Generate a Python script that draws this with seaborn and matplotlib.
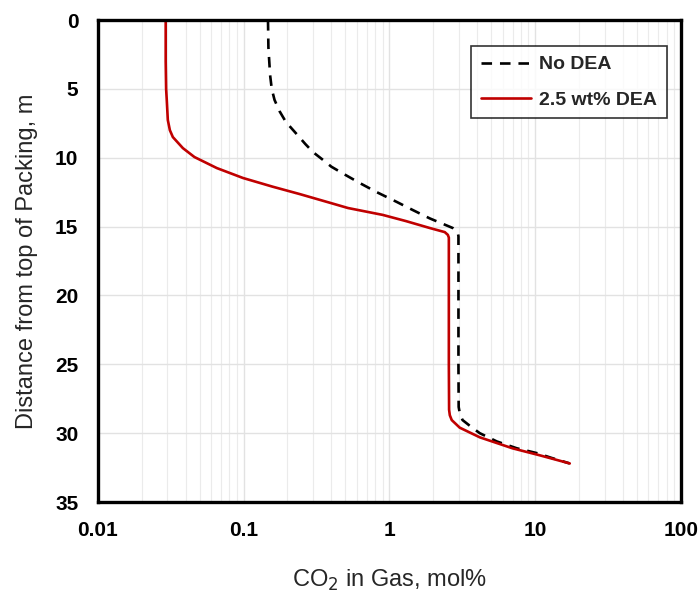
import matplotlib
matplotlib.use("Agg")
import matplotlib.pyplot as plt
import numpy as np
import seaborn as sns
from matplotlib.ticker import LogLocator, FixedLocator, NullFormatter

# depth along packing (m) and CO2 in gas (mol%)
no_dea_depth = [0, 2, 4, 5, 5.8, 6.6, 7.4, 8.3, 9.0, 9.6, 10.1, 10.65, 11.25, 11.85,
                12.5, 13.2, 13.8, 14.4, 15.1, 15.45, 15.7, 20, 25, 28.1, 28.6, 29.05,
                29.5, 30.0, 30.6, 31.1, 31.45, 31.8, 32.2]
no_dea_co2 = [0.147, 0.148, 0.152, 0.156, 0.163, 0.176, 0.195, 0.232, 0.265, 0.30,
              0.345, 0.40, 0.50, 0.63, 0.82, 1.12, 1.45, 1.89, 2.72, 2.95, 2.98, 2.98,
              2.98, 2.99, 3.05, 3.18, 3.6, 4.17, 5.46, 7.5, 10.3, 13.0, 17.3]

dea_depth = [0, 3, 5, 5.8, 7.26, 8.0, 8.5, 9.3, 9.95, 10.75, 11.47, 12.1, 12.64, 13.3,
             13.65, 14.15, 14.6, 15.1, 15.4, 15.6, 15.8, 20, 25, 28.3, 28.7, 29.05,
             29.6, 30.3, 31.1, 31.6, 32.2]
dea_co2 = [0.0292, 0.0292, 0.0294, 0.0297, 0.0302, 0.0312, 0.0327, 0.0383, 0.046,
           0.0655, 0.099, 0.158, 0.243, 0.40, 0.52, 0.90, 1.3, 1.89, 2.4, 2.52, 2.56,
           2.56, 2.56, 2.57, 2.6, 2.68, 3.04, 4.17, 7.0, 10.7, 17.3]

x_ticks = [0.01, 0.1, 1, 10, 100]
x_tick_labels = ["0.01", "0.1", "1", "10", "100"]
y_ticks = [0, 5, 10, 15, 20, 25, 30, 35]

sns.set_style("white")
plt.rcParams["font.family"] = ["Liberation Sans", "DejaVu Sans"]

fig = plt.figure(figsize=(6.99, 5.98), dpi=100)
ax = fig.add_axes([0.140, 0.1605, 0.834, 0.806])

sns.lineplot(x=no_dea_co2, y=no_dea_depth, sort=False, estimator=None, ax=ax,
             color="black", linewidth=1.9, label="No DEA")
sns.lineplot(x=dea_co2, y=dea_depth, sort=False, estimator=None, ax=ax,
             color="#C00000", linewidth=1.9, label="2.5 wt% DEA")
ax.lines[0].set_dashes([4, 3])

ax.set_xscale("log")
ax.set_xlim(0.01, 100)
ax.set_ylim(35, 0)

ax.xaxis.set_major_locator(FixedLocator(x_ticks))
ax.set_xticklabels(x_tick_labels)
ax.xaxis.set_minor_locator(LogLocator(base=10, subs=np.arange(2, 10), numticks=20))
ax.xaxis.set_minor_formatter(NullFormatter())
ax.set_yticks(y_ticks)

ax.grid(which="major", color="#E2E2E2", linewidth=1.0)
ax.grid(which="minor", axis="x", color="#EBEBEB", linewidth=0.8)
ax.set_axisbelow(True)

for s in ax.spines.values():
    s.set_linewidth(2.4)
    s.set_color("black")

ax.tick_params(which="major", direction="in", length=6, width=2.2, pad=14,
               labelsize=15, colors="black")
ax.tick_params(which="minor", length=0)
for lab in ax.get_xticklabels() + ax.get_yticklabels():
    lab.set_fontweight("bold")

ax.set_xlabel("CO$_2$ in Gas, mol%", fontsize=17, labelpad=20)
ax.set_ylabel("Distance from top of Packing, m", fontsize=17, labelpad=12)

leg = ax.legend(loc="upper right", bbox_to_anchor=(0.976, 0.946), borderaxespad=0,
                frameon=True, fancybox=False, fontsize=14, handlelength=2.6,
                labelspacing=0.9, borderpad=0.5, handletextpad=0.4)
leg.get_frame().set_edgecolor("black")
leg.get_frame().set_linewidth(1.2)
for t in leg.get_texts():
    t.set_fontweight("bold")

fig.savefig("out.png", dpi=100)
plt.close(fig)
